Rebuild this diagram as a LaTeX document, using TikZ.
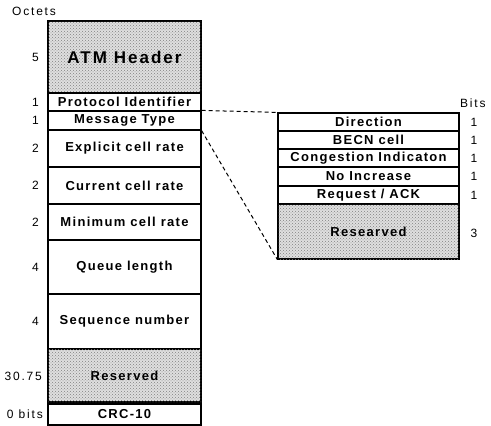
\documentclass[tikz,border=0pt]{standalone}
\usepackage{fontspec}
\setmainfont{Liberation Sans}[LetterSpace=15]
\usetikzlibrary{patterns}
\tikzset{
  field/.style={draw, line width=1.2pt, inner sep=0pt, fill=white,
    font=\bfseries\fontsize{13}{15}\selectfont\addfontfeature{LetterSpace=10}},
  leftfield/.style={field, minimum width=153pt},
  rightfield/.style={field, minimum width=181pt},
  dotted fill/.style={fill=gray!25,
    postaction={pattern=crosshatch dots, pattern color=black!50}},
  lbl/.style={inner sep=0pt, font=\fontsize{12}{14}\selectfont},
  link/.style={draw, line width=1pt, dash pattern=on 4pt off 3pt}
}
\begin{document}
\begin{tikzpicture}[x=1pt,y=-1pt]
\useasboundingbox (0,0) rectangle (491,426);
% left column
\node[leftfield, dotted fill, minimum height=72pt, font=\bfseries\fontsize{17}{19}\selectfont\addfontfeature{LetterSpace=12}] (atm) at (124.5,57) {ATM Header};
\node[leftfield, minimum height=18pt] (proto) at (124.5,102) {Protocol Identifier};
\node[leftfield, minimum height=19pt] (msg) at (124.5,120.5) {Message Type};
\node[leftfield, minimum height=37pt] (expl) at (124.5,148.5) {Explicit cell rate};
\node[leftfield, minimum height=37pt] (curr) at (124.5,185.5) {Current cell rate};
\node[leftfield, minimum height=36pt] (minr) at (124.5,222) {Minimum cell rate};
\node[leftfield, minimum height=54pt] (queue) at (124.5,267) {Queue length};
\node[leftfield, minimum height=55pt] (seq) at (124.5,321.5) {Sequence number};
\node[leftfield, dotted fill, minimum height=53pt] (res) at (124.5,375.5) {Reserved};
\node[leftfield, minimum height=21pt] (crc) at (124.5,414.5) {CRC-10};
% left labels
\node[lbl, anchor=west] (octets) at (12,11.5) {Octets};
\node[lbl, anchor=east] (n1) at (39,57) {5};
\node[lbl, anchor=east] (n2) at (39,102) {1};
\node[lbl, anchor=east] (n3) at (39,120.5) {1};
\node[lbl, anchor=east] (n4) at (39,148.5) {2};
\node[lbl, anchor=east] (n5) at (39,185.5) {2};
\node[lbl, anchor=east] (n6) at (39,222) {2};
\node[lbl, anchor=east] (n7) at (39,267) {4};
\node[lbl, anchor=east] (n8) at (39,321.5) {4};
\node[lbl, anchor=east] (n9) at (42,376) {30.75};
\node[lbl, anchor=east] (n10) at (43,414) {0 bits};
% right column
\node[rightfield, minimum height=18pt] (dir) at (368.5,122) {Direction};
\node[rightfield, minimum height=18pt] (becn) at (368.5,140) {BECN cell};
\node[rightfield, minimum height=18pt] (cong) at (368.5,158) {Congestion Indicaton};
\node[rightfield, minimum height=19pt] (noinc) at (368.5,176.5) {No Increase};
\node[rightfield, minimum height=18pt] (req) at (368.5,195) {Request / ACK};
\node[rightfield, dotted fill, minimum height=55pt] (res2) at (368.5,231.5) {Researved};
% right labels
\node[lbl, anchor=west] (bits) at (460,103.5) {Bits};
\node[lbl] (b1) at (474,122) {1};
\node[lbl] (b2) at (474,140) {1};
\node[lbl] (b3) at (474,158) {1};
\node[lbl] (b4) at (474,176.5) {1};
\node[lbl] (b5) at (474,195) {1};
\node[lbl] (b6) at (474,233) {3};
% connectors
\draw[link] (msg.north east) -- (dir.north west);
\draw[link] (msg.south east) -- (res2.south west);
\end{tikzpicture}
\end{document}
